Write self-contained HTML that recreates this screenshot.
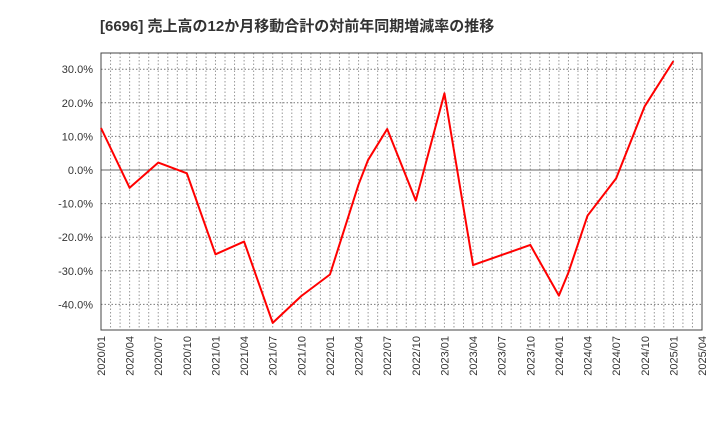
<!DOCTYPE html>
<html><head><meta charset="utf-8"><style>
body{margin:0;background:#fff;font-family:"Liberation Sans","Noto Sans CJK JP",sans-serif}
</style></head><body>
<svg id="c" width="720" height="440" xmlns="http://www.w3.org/2000/svg">
<text x="100" y="31" font-size="15" font-weight="bold" fill="#333" font-family="Liberation Sans,Noto Sans CJK JP,sans-serif">[6696]  売上高の12か月移動合計の対前年同期増減率の推移</text>
<g id="grid"></g><g id="axes"></g><g id="series"></g>
</svg>
<script>
const months=[0,3,6,9,12,15,18,21,24,27,28,30,33,36,39,45,48,49,51,54,57,60];
const values=[12.5,-5.3,2.2,-1.0,-25.1,-21.3,-45.5,-37.5,-31.1,-4.3,3,12.2,-9.1,22.8,-28.3,-22.3,-37.4,-30.5,-13.6,-2.5,19,32.4];
const yTicks=[30,20,10,0,-10,-20,-30,-40];
const xTickLabels=["2020/01","2020/04","2020/07","2020/10","2021/01","2021/04","2021/07","2021/10","2022/01","2022/04","2022/07","2022/10","2023/01","2023/04","2023/07","2023/10","2024/01","2024/04","2024/07","2024/10","2025/01","2025/04"];
const L=101,R=702,T=53,B=330;
const X=m=>L+m*(R-L)/63;
const Y=v=>170-v*3.36;
const NS="http://www.w3.org/2000/svg";
function mk(p,t,a){const e=document.createElementNS(NS,t);for(const k in a)e.setAttribute(k,a[k]);document.getElementById(p).appendChild(e);return e;}
for(let m=1;m<63;m++){const l=mk('grid','line',{x1:X(m),x2:X(m),y1:T,y2:B,stroke:'#999','stroke-dasharray':'1.5,2','stroke-width':1});

}
yTicks.forEach(v=>{const l=mk('grid','line',{x1:L,x2:R,y1:Y(v),y2:Y(v),stroke:v===0?'#666':'#777','stroke-dasharray':v===0?'':'1.5,2','stroke-width':1});


const t=mk('axes','text',{x:L-8,y:Y(v)+4,'text-anchor':'end','font-size':11,fill:'#333'});


t.textContent=v.toFixed(1)+'%';});
xTickLabels.forEach((s,i)=>{const x=X(i*3);const t=mk('axes','text',{x:x+4,y:B+6,'text-anchor':'end','font-size':11,fill:'#333',transform:`rotate(-90 ${x+4} ${B+6})`});


t.textContent=s;});
const f=mk('axes','rect',{x:L,y:T,width:R-L,height:B-T,fill:'none',stroke:'#444','stroke-width':1});


const p=mk('series','polyline',{points:months.map((m,i)=>X(m)+','+Y(values[i])).join(' '),fill:'none',stroke:'#f00','stroke-width':2,'stroke-linejoin':'round'});


</script>
</body></html>
